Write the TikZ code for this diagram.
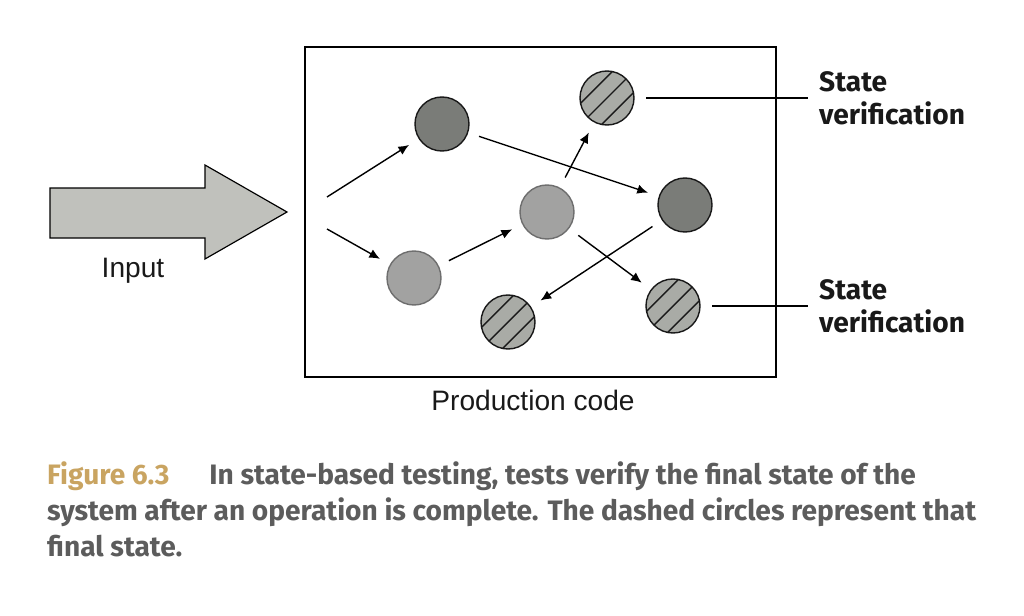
\documentclass[tikz,border=0pt]{standalone}
\usepackage{fontspec}
\setmainfont{Liberation Sans}
\newfontfamily\tagfont{Fira Sans}
\newfontfamily\capfont{Fira Sans}
\usetikzlibrary{arrows.meta}
\definecolor{darkfill}{HTML}{7A7C78}
\definecolor{midfill}{HTML}{A2A2A1}
\definecolor{midline}{HTML}{6E6E6E}
\definecolor{hatchfill}{HTML}{A9ABA6}
\definecolor{arrowfill}{HTML}{C0C1BC}
\definecolor{figgold}{HTML}{C9A461}
\definecolor{capgray}{HTML}{5C5C5C}
\tikzstyle{state}=[circle,minimum size=1.62cm,inner sep=0pt,outer sep=0.36cm,line width=1.2pt]
\tikzstyle{darkstate}=[state,draw=black!90,fill=darkfill]
\tikzstyle{midstate}=[state,draw=midline,fill=midfill]
\tikzstyle{hatchstate}=[state,draw=black!90,fill=hatchfill,
  path picture={\foreach \s in {-1,0,1}
    \draw[line width=1.2pt] ([xshift=\s*9pt-24pt,yshift=-1*\s*9pt-24pt]path picture bounding box.center)
      -- ([xshift=\s*9pt+24pt,yshift=-1*\s*9pt+24pt]path picture bounding box.center);}]
\tikzstyle{flow}=[draw,line width=1.2pt,-{Latex[length=0.32cm,width=0.28cm]}]
\tikzstyle{tag}=[font=\tagfont\bfseries\fontsize{24}{28}\selectfont,text=black!90,align=left,anchor=west,inner sep=0pt,inner xsep=0.33cm]
\tikzstyle{plain}=[font=\fontsize{24}{28}\selectfont,text=black!90]
\tikzstyle{caption}=[font=\capfont\bfseries\fontsize{24}{30}\selectfont,text=capgray,anchor=base west,inner sep=0pt]

\begin{document}
\begin{tikzpicture}[x=0.03cm,y=-0.03cm]
    \useasboundingbox (0,0) rectangle (1024,616);
    % entree
    \draw[line width=1pt,fill=arrowfill] (50,188) -- (205,188) -- (205,165) -- (287,212)
        -- (205,259) -- (205,238) -- (50,238) -- cycle;
    \node[plain] (input) at (133,271) {Input};
    % code
    \draw[line width=1pt] (305,47) rectangle (776,377);
    \node[plain] (prod) at (533,400) {Production code};
    % etats
    \foreach \pos/\name/\kind in {{(442,124)/d1/darkstate}, {(607,98)/h1/hatchstate}, {(547,212)/m1/midstate},
        {(685,205)/d2/darkstate}, {(414,278)/m0/midstate}, {(508,322)/h2/hatchstate}, {(673,306)/h3/hatchstate}}
        \node[\kind] (\name) at \pos {};
    \coordinate (in1) at (327,197);
    \coordinate (in2) at (327,229);
    % fleches
    \foreach \source/\dest in {in1/d1, in2/m0, m0/m1, d1/d2, m1/h1, m1/h3, d2/h2}
        \path[flow] (\source) -- (\dest);
    % verification
    \node[tag] (sv1) at (808,98) {State\\verification};
    \node[tag] (sv2) at (808,306) {State\\verification};
    \draw[line width=1.2pt] (h1.east) -- (sv1.west);
    \draw[line width=1.2pt] (h3.east) -- (sv2.west);
    % legende
    \node[caption] (cap1) at (47,484) {{\color{figgold}Figure 6.3}\hspace{1.2cm}In state-based testing, tests verify the final state of the};
    \node[caption] (cap2) at (47,520) {system after an operation is complete. The dashed circles represent that};
    \node[caption] (cap3) at (47,556) {final state.};
\end{tikzpicture}
\end{document}
